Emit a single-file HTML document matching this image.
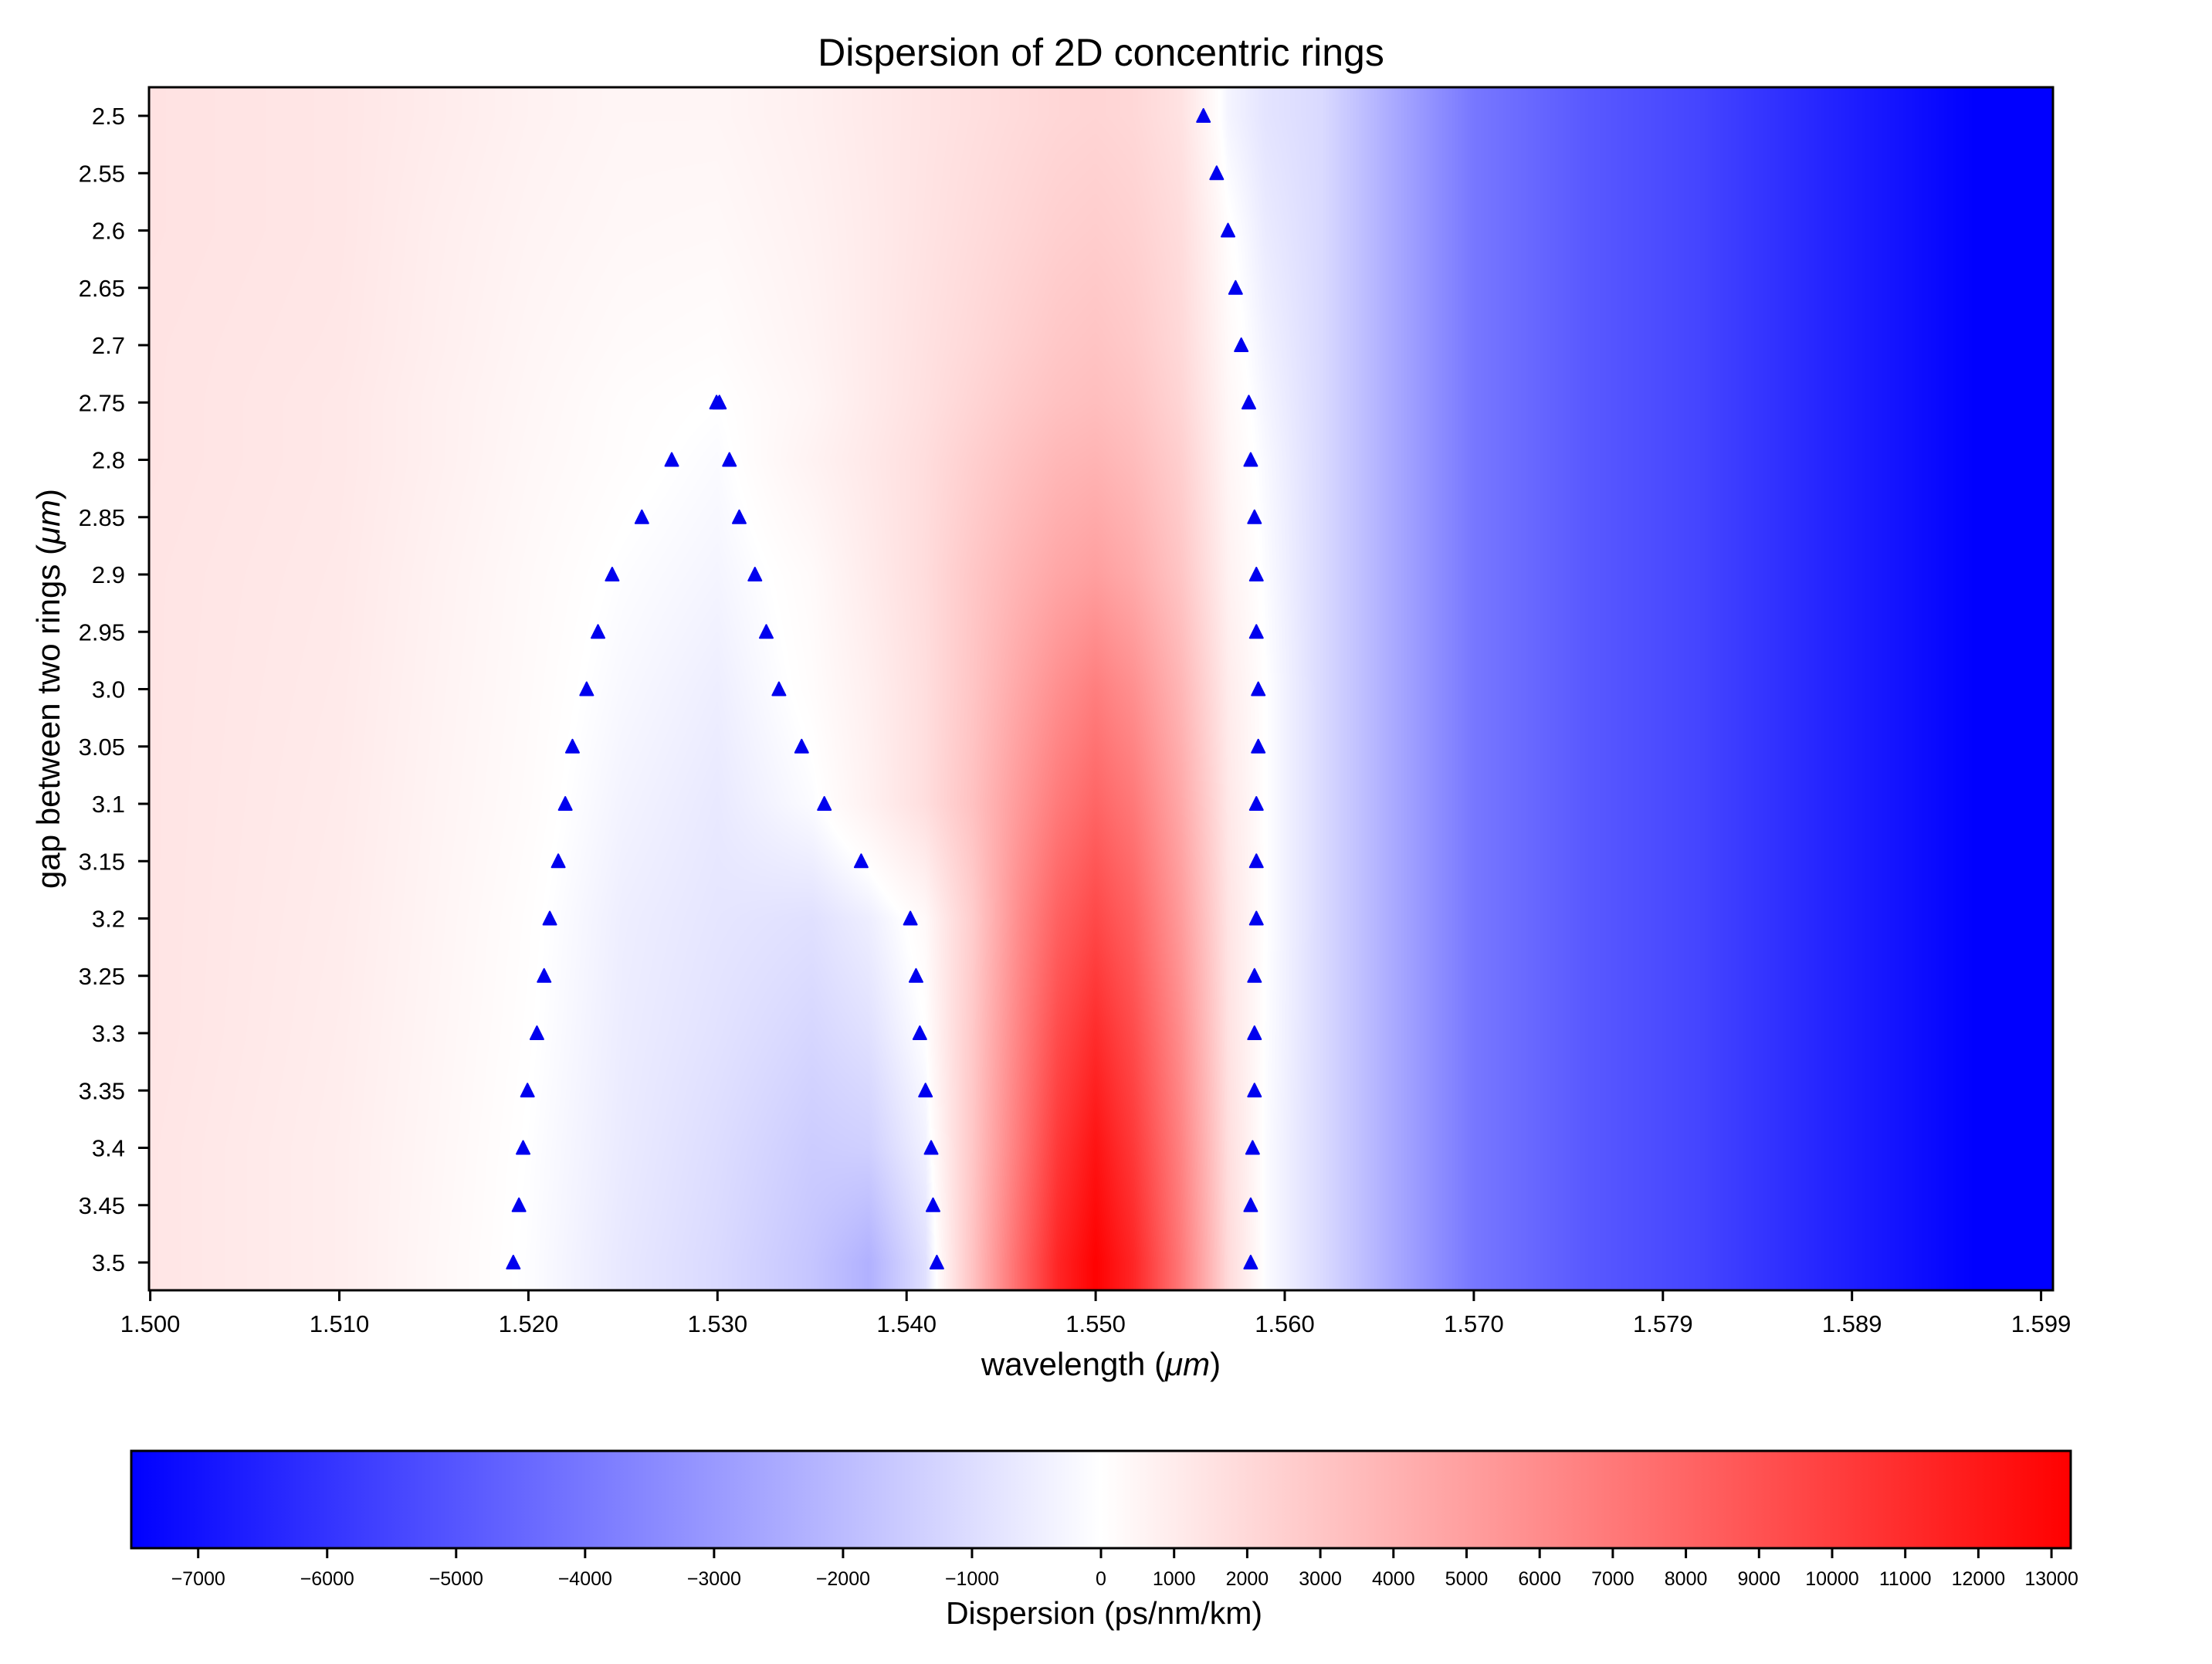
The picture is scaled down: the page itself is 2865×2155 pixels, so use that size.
<!DOCTYPE html>
<html><head><meta charset="utf-8"><title>Dispersion of 2D concentric rings</title>
<style>
html,body{margin:0;padding:0;background:#fff;}
#wrap{position:relative;width:2865px;height:2155px;overflow:hidden;font-family:"Liberation Sans",sans-serif;}
#heat{position:absolute;left:193px;top:113px;}
#ov{position:absolute;left:0;top:0;}
</style></head>
<body>
<div id="wrap">
<canvas id="heat" width="2466" height="1558"></canvas>
<svg id="ov" width="2865" height="2155" xmlns="http://www.w3.org/2000/svg">
<defs>
<linearGradient id="cbg" x1="0" x2="1" y1="0" y2="0">
<stop offset="0" stop-color="#0000ff"/><stop offset="0.5" stop-color="#ffffff"/><stop offset="1" stop-color="#ff0000"/>
</linearGradient>
</defs>
<text x="1426" y="85" font-size="50" text-anchor="middle">Dispersion of 2D concentric rings</text>
<g id="markers"></g>
<rect x="193" y="113" width="2466" height="1558" fill="none" stroke="#000" stroke-width="3"/>
<g id="xt"></g>
<g id="yt"></g>
<text x="1426" y="1781" font-size="42" text-anchor="middle">wavelength (<tspan font-style="italic">μm</tspan>)</text>
<text transform="translate(77,892) rotate(-90)" font-size="42" text-anchor="middle">gap between two rings (<tspan font-style="italic">μm</tspan>)</text>
<rect x="170" y="1879" width="2512" height="126" fill="url(#cbg)" stroke="#000" stroke-width="3"/>
<g id="ct"></g>
<text x="1430" y="2103" font-size="41" text-anchor="middle">Dispersion (ps/nm/km)</text>
</svg>
</div>
<script>
// ---- data ----
const gapRows = [2.5,2.6,2.7,2.75,2.8,2.9,3.0,3.1,3.2,3.3,3.4,3.5];
const lambdaNodes = [1.4999,1.510,1.515,1.520,1.525,1.530,1.535,1.538,1.541,1.5435,1.546,1.548,1.550,1.552,1.5545,1.557,1.559,1.562,1.566,1.570,1.576,1.582,1.589,1.5965,1.6007];
const rightTail = [-1100,-2600,-4000,-4900,-5500,-6500,-7519,-7519];
const row250 = [1500,1300,1000,700,500,500,800,1100,1400,1650,1900,2100,2200,2050,1500,-300,-800];
const row260 = [1500,1300,900,600,400,350,700,1050,1450,1800,2150,2450,2600,2400,1800,100,-600];
const row270 = [1450,1250,850,500,250,150,600,1050,1550,2000,2500,2900,3100,2800,2000,300,-400];
const row275 = [1450,1200,800,450,150,0,500,1050,1600,2200,2800,3200,3400,3100,2200,400,-300];
const row280 = [1450,1200,800,400,120,-120,650,1150,1750,2500,3200,3700,3900,3500,2500,500,-200];
const row290 = [1400,1150,700,300,-60,-300,250,1000,1800,2900,3900,4600,5000,4400,3000,700,-100];
const row300 = [1400,1100,650,250,-200,-500,150,800,1700,3000,4600,5800,6700,5800,3800,1000,0];
const row310 = [1400,1050,600,200,-350,-650,-100,700,1700,3200,5300,6900,8000,7000,4500,1200,0];
const row320 = [1400,1000,550,100,-500,-750,-900,-500,300,2600,6000,8200,9500,8200,5200,1400,0];
const row330 = [1400,950,500,50,-550,-850,-1200,-900,0,2800,6500,9300,11000,9300,5900,1500,-50];
const row340 = [1350,900,450,-20,-600,-1000,-1500,-1400,-400,2900,7000,10300,12300,10300,6500,1700,-100];
const row350 = [1350,900,400,-60,-680,-1100,-1700,-2300,-900,3100,7800,11300,13200,11300,7000,1900,-100];
const gridRows = [row250,row260,row270,row275,row280,row290,row300,row310,row320,row330,row340,row350];

const markerGaps = [2.5,2.55,2.6,2.65,2.7,2.75,2.8,2.85,2.9,2.95,3.0,3.05,3.1,3.15,3.2,3.25,3.3,3.35,3.4,3.45,3.5];
const markerRight = [1.5557,1.5564,1.5570,1.5574,1.5577,1.5581,1.5582,1.5584,1.5585,1.5585,1.5586,1.5586,1.5585,1.5585,1.5585,1.5584,1.5584,1.5584,1.5583,1.5582,1.5582];
const innerGaps = [2.75,2.8,2.85,2.9,2.95,3.0,3.05,3.1,3.15,3.2,3.25,3.3,3.35,3.4,3.45,3.5];
const innerLeft = [1.52995,1.52758,1.5260,1.52443,1.52368,1.52308,1.52233,1.52195,1.52158,1.52113,1.52083,1.52045,1.51995,1.51972,1.5195,1.5192];
const innerRight = [1.5301,1.53063,1.53115,1.53198,1.53258,1.53325,1.53445,1.53565,1.5376,1.5402,1.5405,1.5407,1.5410,1.5413,1.5414,1.5416];

const xTickVals = [1.500,1.510,1.520,1.530,1.540,1.550,1.560,1.570,1.580,1.590,1.600];
const xTickLabels = ["1.500","1.510","1.520","1.530","1.540","1.550","1.560","1.570","1.579","1.589","1.599"];
const yTickVals = [2.5,2.55,2.6,2.65,2.7,2.75,2.8,2.85,2.9,2.95,3.0,3.05,3.1,3.15,3.2,3.25,3.3,3.35,3.4,3.45,3.5];
const yTickLabels = ["2.5","2.55","2.6","2.65","2.7","2.75","2.8","2.85","2.9","2.95","3.0","3.05","3.1","3.15","3.2","3.25","3.3","3.35","3.4","3.45","3.5"];
const cbTicks = [-7000,-6000,-5000,-4000,-3000,-2000,-1000,0,1000,2000,3000,4000,5000,6000,7000,8000,9000,10000,11000,12000,13000];
const vMin = -7519, vMax = 13263;

// ---- scales ----
const NS = "http://www.w3.org/2000/svg";
function xScale(l){ return 194.6 + (l - 1.5) * 24490; }
function yScale(g){ return 150 + (g - 2.5) / 0.05 * 74.25; }
function cbScale(v){ return v < 0 ? 1426 + v / (-vMin) * 1256 : 1426 + v / vMax * 1256; }
function color(v){
  if (v < 0){ const s = Math.min(1, -v / (-vMin)); const c = Math.round(255*(1-s)); return [c,c,255]; }
  const t = Math.min(1, v / vMax); const c = Math.round(255*(1-t)); return [255,c,c];
}
function mk(tag, attrs){ const e = document.createElementNS(NS, tag); for (const k in attrs) e.setAttribute(k, attrs[k]); return e; }

// ---- heatmap ----
(function(){
  const cv = document.getElementById('heat'); const ctx = cv.getContext('2d');
  const W = cv.width, H = cv.height; const img = ctx.createImageData(W, H);
  const fullRows = gridRows.map(r => r.concat(rightTail));
  const colIdx = [], colF = [];
  for (let px = 0; px < W; px++){
    const l = 1.5 + (px + 193 + 0.5 - 194.6) / 24490;
    let i = 0; while (i < lambdaNodes.length - 2 && l > lambdaNodes[i+1]) i++;
    let f = (l - lambdaNodes[i]) / (lambdaNodes[i+1] - lambdaNodes[i]); f = Math.max(0, Math.min(1, f));
    colIdx.push(i); colF.push(f);
  }
  for (let py = 0; py < H; py++){
    const g = 2.5 + (py + 113 + 0.5 - 150) / 74.25 * 0.05;
    let j = 0; while (j < gapRows.length - 2 && g > gapRows[j+1]) j++;
    let fy = (g - gapRows[j]) / (gapRows[j+1] - gapRows[j]); fy = Math.max(0, Math.min(1, fy));
    const r0 = fullRows[j], r1 = fullRows[j+1];
    for (let px = 0; px < W; px++){
      const i = colIdx[px], f = colF[px];
      const a = r0[i]*(1-f) + r0[i+1]*f, b = r1[i]*(1-f) + r1[i+1]*f;
      const c = color(a*(1-fy) + b*fy);
      const o = (py*W + px)*4; img.data[o]=c[0]; img.data[o+1]=c[1]; img.data[o+2]=c[2]; img.data[o+3]=255;
    }
  }
  ctx.putImageData(img, 0, 0);
})();

// ---- markers ----
const mg = document.getElementById('markers');
function tri(l, g){
  const x = xScale(l), y = yScale(g);
  const p = mk('polygon', {points: `${x},${y-9} ${x+8.5},${y+8} ${x-8.5},${y+8}`, fill:'#0000ee', stroke:'#0000ee', 'stroke-width':'2', 'stroke-linejoin':'round'});
  
  
  mg.appendChild(p);
}
markerGaps.forEach((g,i) => tri(markerRight[i], g));
innerGaps.forEach((g,i) => { tri(innerLeft[i], g); tri(innerRight[i], g); });

// ---- axes ----
const xt = document.getElementById('xt');
xTickVals.forEach((v,i) => {
  const x = 194.6 + i * 244.9;
  const t = mk('line', {x1:x, x2:x, y1:1671, y2:1685, stroke:'#000', 'stroke-width':3});
  
  
  xt.appendChild(t);
  const tx = mk('text', {x:x, y:1725, 'font-size':31, 'text-anchor':'middle'}); tx.textContent = xTickLabels[i];
  
  
  xt.appendChild(tx);
});
const yt = document.getElementById('yt');
yTickVals.forEach((v,i) => {
  const y = yScale(v);
  const t = mk('line', {x1:179, x2:193, y1:y, y2:y, stroke:'#000', 'stroke-width':3});
  
  
  yt.appendChild(t);
  const tx = mk('text', {x:162, y:y+11, 'font-size':31, 'text-anchor':'end'}); tx.textContent = yTickLabels[i];
  
  
  yt.appendChild(tx);
});
const ct = document.getElementById('ct');
cbTicks.forEach(v => {
  const x = cbScale(v);
  const t = mk('line', {x1:x, x2:x, y1:2005, y2:2018, stroke:'#000', 'stroke-width':3});
  
  
  ct.appendChild(t);
  const tx = mk('text', {x:x, y:2053, 'font-size':25, 'text-anchor':'middle'}); tx.textContent = v < 0 ? '\u2212' + (-v) : String(v);
  
  
  ct.appendChild(tx);
});
</script>
</body></html>
